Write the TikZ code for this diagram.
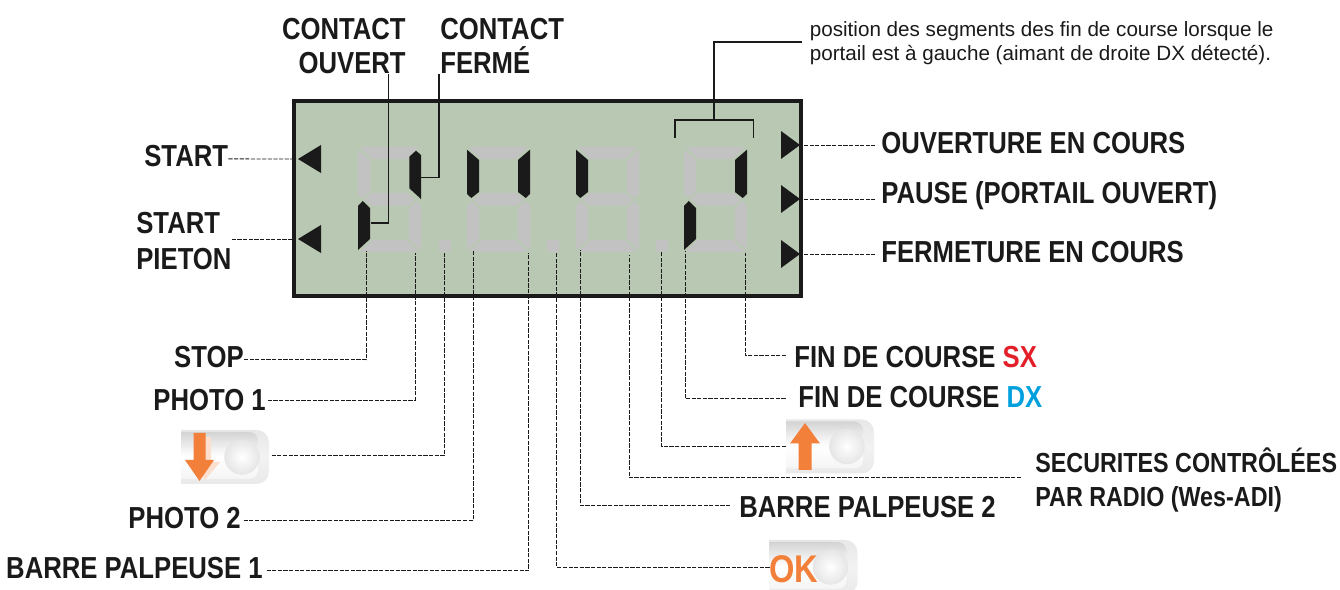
\documentclass[tikz,border=0pt]{standalone}
\usepackage{fontspec}
\setmainfont{Liberation Sans}
\newfontfamily\etiq[FakeStretch=0.845]{Liberation Sans}
\usetikzlibrary{arrows.meta,positioning}
\definecolor{fondlcd}{HTML}{B8C8B2}
\definecolor{grisseg}{HTML}{C2C2C2}
\definecolor{noirseg}{HTML}{1A1A1A}
\definecolor{orangebtn}{HTML}{F2803A}
\definecolor{rougesx}{HTML}{E3202A}
\definecolor{bleudx}{HTML}{00A0DF}
\pgfdeclareverticalshading{btnfond}{100bp}{color(0bp)=(gray!42); color(14bp)=(gray!20); color(50bp)=(gray!10); color(85bp)=(gray!22); color(100bp)=(gray!38)}
\tikzset{
	lbl/.style={inner sep=0pt,text=noirseg,font=\etiq\bfseries\fontsize{17.3}{20.4}\selectfont},
	petit/.style={inner sep=0pt,text=noirseg,font=\fontsize{11.75}{13.6}\selectfont,align=left},
	leader/.style={noirseg,line width=0.55pt,dash pattern=on 2.4pt off 0.8pt},
	trait/.style={noirseg,line width=0.75pt}
}
\newcommand{\touche}[3]{
	\begin{scope}[shift={(#2,#3)}]
		\shade[shading=btnfond] (0,0) [rounded corners=7pt] -- (88,0) -- (88,54) [sharp corners] -- (0,54) -- cycle;
		\shade[top color=gray!34,bottom color=white] (0,2) [rounded corners=5pt] -- (77,2) -- (77,26) [sharp corners] -- (0,26) -- cycle;
		\shade[top color=white,bottom color=gray!8] (0,26) [sharp corners] -- (77,26) [rounded corners=5pt] -- (77,49) [sharp corners] -- (0,49) -- cycle;
		\shade[inner color=white,outer color=gray!20] (61,27) circle (17.7);
		\coordinate (#1left) at (0,27);
		\coordinate (#1right) at (88,27);
	\end{scope}
}
\begin{document}
\begin{tikzpicture}[x=0.02cm,y=-0.02cm]
	\useasboundingbox (0,0) rectangle (1340,590);
	% afficheur
	\draw[noirseg,fill=fondlcd,line width=2.5pt] (294,101) rectangle (801,296);
	\foreach \dx/\ul/\ur/\ll in {358/grisseg/fondlcd/noirseg,467/noirseg/noirseg/grisseg,576/noirseg/grisseg/grisseg,684/grisseg/noirseg/noirseg}{
		\begin{scope}[shift={(\dx,147)}]
			\fill[grisseg] (2,0) -- (61,0) -- (49,12) -- (14,12) -- cycle;
			\fill[grisseg] (6,52.5) -- (14,46) -- (49,46) -- (57,52.5) -- (49,59) -- (14,59) -- cycle;
			\fill[grisseg] (2,105) -- (14,93) -- (49,93) -- (61,105) -- cycle;
			\fill[\ul] (0,2.7) -- (12,13) -- (12,45) -- (4.3,51) -- (0,47) -- cycle;
			\fill[\ur] (63,2.7) -- (51,13) -- (51,45) -- (58.7,51) -- (63,47) -- cycle;
			\fill[\ll] (0,59) -- (4.7,54) -- (12,61) -- (12,92) -- (0,103) -- cycle;
			\fill[grisseg] (63,59) -- (58.3,54) -- (51,61) -- (51,92) -- (63,103) -- cycle;
		\end{scope}
	}
	\fill[noirseg] (409.3,156.7) -- (416,150.7) -- (421,155) -- (421,199) -- (409.3,188.3) -- cycle;
	\foreach \dx in {439,547,656}
		\fill[grisseg] (\dx,240) rectangle +(12,12);
	% triangles
	\foreach \y/\name in {159/tristart,239/tripieton}{
		\fill[noirseg] (298,\y) -- (321,\y-14) -- (321,\y+14) -- cycle;
		\coordinate (\name) at (296,\y);
	}
	\foreach \y/\name in {145/triouv,199/tripause,254/triferm}{
		\fill[noirseg] (800,\y) -- (781,\y-14) -- (781,\y+14) -- cycle;
		\coordinate (\name) at (804,\y);
	}
	% points de sortie
	\coordinate (segstop) at (366,251);
	\coordinate (segphotoa) at (415,253);
	\coordinate (segdown) at (444.5,252);
	\coordinate (segphotob) at (473.5,250);
	\coordinate (segbarrea) at (528.5,253);
	\coordinate (segok) at (556.5,252);
	\coordinate (segbarreb) at (580,250);
	\coordinate (segradio) at (629,255);
	\coordinate (segup) at (661.5,251);
	\coordinate (segdx) at (685,251);
	\coordinate (segsx) at (745,253);
	\coordinate (segouvert) at (371,223);
	\coordinate (segferme) at (421,177.5);
	\coordinate (crochetg) at (675,138);
	\coordinate (crochetd) at (753.5,138);
	\coordinate (crochet) at (714,120);
	% textes
	\node[lbl,anchor=east,align=right] (ouvert) at (406,46) {CONTACT\\[-0.6pt]OUVERT};
	\node[lbl,anchor=west,align=left] (ferme) at (440,46) {CONTACT\\[-0.6pt]FERMÉ};
	\node[petit,anchor=west] (note) at (809.5,43) {position des segments des fin de course lorsque le\\portail est à gauche (aimant de droite DX détecté).};
	\node[lbl,anchor=west] (start) at (144,156) {START};
	\node[lbl,anchor=west,align=left] (pieton) at (136,241) {START\\PIETON};
	\node[lbl,anchor=west] (ouv) at (881,143) {OUVERTURE EN COURS};
	\node[lbl,anchor=west] (pause) at (881,196) {PAUSE (PORTAIL OUVERT)};
	\node[lbl,anchor=west] (ferm) at (881,252) {FERMETURE EN COURS};
	\node[lbl,anchor=east] (stop) at (244,357) {STOP};
	\node[lbl,anchor=east] (photoa) at (266,400) {PHOTO 1};
	\node[lbl,anchor=east] (photob) at (241,518.5) {PHOTO 2};
	\node[lbl,anchor=east] (barrea) at (263,568.5) {BARRE PALPEUSE 1};
	\node[lbl,anchor=west] (sx) at (794,357) {FIN DE COURSE \textcolor{rougesx}{SX}};
	\node[lbl,anchor=west] (dx) at (798,397) {FIN DE COURSE \textcolor{bleudx}{DX}};
	\node[lbl,anchor=west] (barreb) at (739,507) {BARRE PALPEUSE 2};
	\node[lbl,anchor=west,align=left,font=\etiq\bfseries\fontsize{15.7}{19.3}\selectfont] (radio) at (1035,480) {SECURITES CONTRÔLÉES\\PAR RADIO (Wes-ADI)};
	% touches
	\touche{btndown}{181}{430}
	\fill[orangebtn!25] (199,437) -- (211,437) -- (211,462) -- (220,462) -- (205,480) -- (190,462) -- (199,462) -- cycle;
	\fill[orangebtn] (193.5,433) -- (205.5,433) -- (205.5,460) -- (214,460) -- (199.5,481) -- (185,460) -- (193.5,460) -- cycle;
	\touche{btnup}{786}{419.5}
	\fill[orangebtn] (798.5,470) -- (811.5,470) -- (811.5,443.5) -- (820,443.5) -- (805,423) -- (790,443.5) -- (798.5,443.5) -- cycle;
	\touche{btnok}{769.5}{540}
	\node[anchor=west,inner sep=0pt,text=orangebtn,font=\etiq\bfseries\fontsize{22}{24}\selectfont] (okmark) at (769,569) {OK};
	% connecteurs
	\draw[leader] ([yshift=-1.7pt]start.east) -- (tristart);
	\draw[leader] (pieton.east |- tripieton) -- (tripieton);
	\draw[leader] (triouv) -- ([xshift=-3.4pt]ouv.west |- triouv);
	\draw[leader] (tripause) -- ([xshift=-3.4pt]pause.west |- tripause);
	\draw[leader] (triferm) -- ([xshift=-3.4pt]ferm.west |- triferm);
	\draw[leader] ([yshift=-1.7pt]stop.east) -| (segstop);
	\draw[leader] ([xshift=1pt]photoa.east) -| (segphotoa);
	\draw[leader] ([xshift=1.5pt,yshift=1pt]btndownright) -| (segdown);
	\draw[leader] ([xshift=1.5pt,yshift=-0.9pt]photob.east) -| (segphotob);
	\draw[leader] ([xshift=2pt,yshift=-1.4pt]barrea.east) -| (segbarrea);
	\draw[leader] (btnokleft) -| (segok);
	\draw[leader] ([xshift=-5pt,yshift=1.1pt]barreb.west) -| (segbarreb);
	\draw[leader] ([xshift=-8pt,yshift=1.5pt]radio.west) -| (segradio);
	\draw[leader] (btnupleft) -| (segup);
	\draw[leader] ([xshift=-4.5pt,yshift=0.6pt]sx.west) -| (segsx);
	\draw[leader] ([xshift=-7pt,yshift=-1.1pt]dx.west) -| (segdx);
	\draw[trait] (ouvert.south -| segouvert) ++(17.5,0) |- (segouvert);
	\draw[trait] (ferme.south -| segferme) ++(18,0) |- (segferme);
	\draw[trait] (crochetg) |- (crochetd |- crochet) -- (crochetd);
	\draw[trait] (crochet) |- ([xshift=-4pt,yshift=0.6pt]note.west);
\end{tikzpicture}
\end{document}
